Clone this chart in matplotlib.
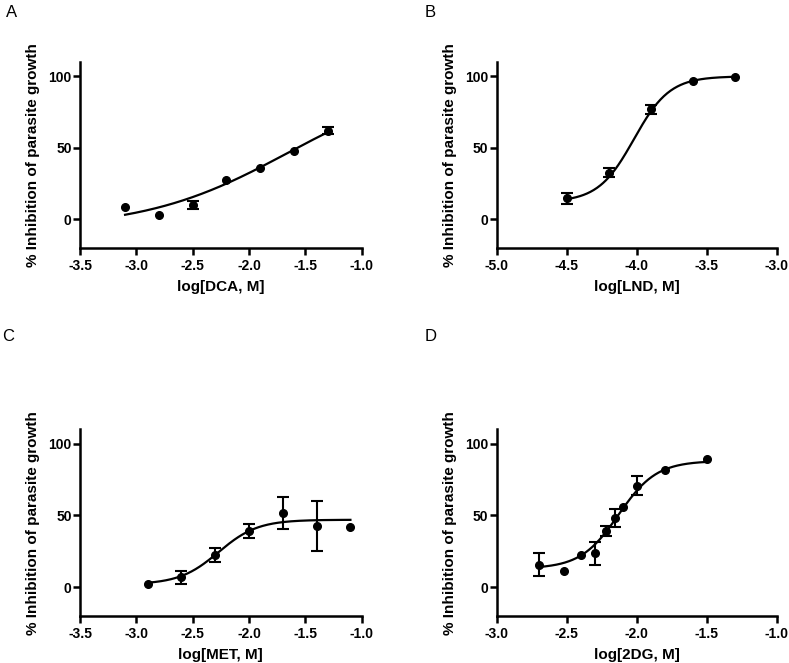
import numpy as np
import matplotlib
matplotlib.use("Agg")
import matplotlib.pyplot as plt

plt.rcParams["font.family"] = ["Liberation Sans", "DejaVu Sans"]

# panel A - DCA
dca_x = [-3.1, -2.8, -2.5, -2.2, -1.9, -1.6, -1.3]
dca_y = [8.5, 3.0, 10.0, 27.5, 36.0, 47.5, 62.0]
dca_err = [0, 0, 3.0, 0, 0, 0, 2.5]
dca_fit = (-7.0, 100.0, -1.653, 0.68)  # bottom, top, logEC50, hill

# panel B - LND
lnd_x = [-4.5, -4.2, -3.9, -3.6, -3.3]
lnd_y = [14.5, 32.5, 77.0, 96.8, 99.3]
lnd_err = [4.0, 3.3, 3.2, 0, 0]
lnd_fit = (12.0, 100.0, -4.02, 3.4)

# panel C - MET
met_x = [-2.9, -2.6, -2.3, -2.0, -1.7, -1.4, -1.1]
met_y = [2.3, 6.9, 22.5, 39.0, 51.6, 42.6, 41.9]
met_err = [0, 4.6, 5.0, 5.0, 11.3, 17.4, 0]
met_fit = (2.0, 47.0, -2.27, 2.5)

# panel D - 2DG
dg_x = [-2.70, -2.52, -2.40, -2.30, -2.22, -2.155, -2.10, -2.0, -1.80, -1.50]
dg_y = [15.7, 11.3, 22.7, 23.6, 38.9, 48.1, 56.0, 70.8, 82.0, 89.6]
dg_err = [8.1, 0, 0, 8.0, 3.5, 6.1, 0, 6.5, 0, 0]
dg_fit = (13.0, 88.0, -2.13, 3.2)

panels = [
    ("A", "log[DCA, M]", dca_x, dca_y, dca_err, dca_fit, (-3.5, -1.0), [0.1014, 0.6264, 0.357, 0.280]),
    ("B", "log[LND, M]", lnd_x, lnd_y, lnd_err, lnd_fit, (-5.0, -3.0), [0.6295, 0.6264, 0.355, 0.280]),
    ("C", "log[MET, M]", met_x, met_y, met_err, met_fit, (-3.5, -1.0), [0.1014, 0.0709, 0.357, 0.2816]),
    ("D", "log[2DG, M]", dg_x, dg_y, dg_err, dg_fit, (-3.0, -1.0), [0.6295, 0.0709, 0.355, 0.2816]),
]

letter_pos = {"A": (0.007, 0.992), "B": (0.538, 0.992), "C": (0.003, 0.504), "D": (0.538, 0.504)}


def four_pl(x, bottom, top, ec50, hill):
    return bottom + (top - bottom) / (1 + 10 ** ((ec50 - x) * hill))


fig = plt.figure(figsize=(7.89, 6.63), dpi=100)

for letter, xlabel, xs, ys, errs, fit, xlim, rect in panels:
    ax = fig.add_axes(rect)
    xs = np.array(xs)
    ys = np.array(ys)
    errs = np.array(errs)

    xx = np.linspace(xs.min(), xs.max(), 200)
    ax.plot(xx, four_pl(xx, *fit), color="black", lw=1.6, zorder=2)

    has_err = errs > 0
    ax.errorbar(xs[has_err], ys[has_err], yerr=errs[has_err], fmt="none",
                ecolor="black", elinewidth=1.5, capsize=4, capthick=1.5, zorder=3)
    ax.plot(xs, ys, "o", color="black", ms=5.5, zorder=4)

    ax.set_xlim(*xlim)
    ax.set_ylim(-20, 110)
    ticks = np.arange(xlim[0], xlim[1] + 0.01, 0.5)
    ax.set_xticks(ticks)
    ax.set_xticklabels([f"{t:.1f}" for t in ticks])
    ax.set_yticks([0, 50, 100])

    for side in ["top", "right"]:
        ax.spines[side].set_visible(False)
    for side in ["left", "bottom"]:
        ax.spines[side].set_linewidth(1.8)
    ax.tick_params(direction="out", length=5, width=1.8, labelsize=10)
    ax.tick_params(axis="x", pad=3)
    ax.tick_params(axis="y", pad=1)
    for lab in ax.get_xticklabels() + ax.get_yticklabels():
        lab.set_fontweight("bold")

    ax.set_xlabel(xlabel, fontsize=11, fontweight="bold", labelpad=5)
    ax.set_ylabel("% Inhibition of parasite growth", fontsize=11, fontweight="bold", labelpad=6)

    lx, ly = letter_pos[letter]
    fig.text(lx, ly, letter, fontsize=12, ha="left", va="top")

fig.savefig("out.png", dpi=100)
